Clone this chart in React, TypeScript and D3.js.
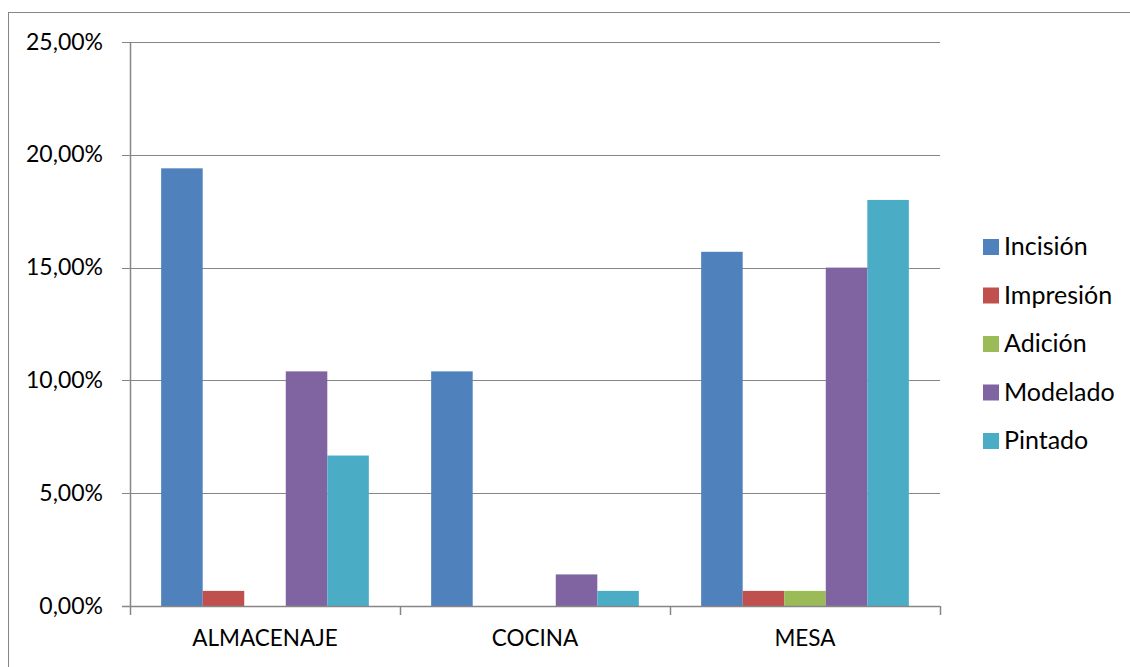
import React from "react";
import * as d3 from "d3";

const categories = ["ALMACENAJE", "COCINA", "MESA"];
const seriesNames = ["Incisión", "Impresión", "Adición", "Modelado", "Pintado"];
const seriesColors = ["#4F81BD", "#C0504D", "#9BBB59", "#8064A2", "#4BACC6"];
const values: number[][] = [
  [19.4, 0.67, 0, 10.4, 6.67],
  [10.4, 0, 0, 1.4, 0.67],
  [15.7, 0.67, 0.67, 15.0, 18.0],
];
const yTicks = [0, 5, 10, 15, 20, 25];

export default function App() {
  const W = 1130, H = 667;
  const left = 130, right = 940, top = 42, bottom = 606;
  const x = d3.scaleBand<string>().domain(categories).range([left, right]).paddingInner(0).paddingOuter(0);
  const xs = d3.scaleBand<string>().domain(seriesNames).range([0, x.bandwidth()]).paddingInner(0).paddingOuter(0.75);
  const y = d3.scaleLinear().domain([0, 25]).range([bottom, top]);
  const font = "Lato, 'Noto Sans', sans-serif";
  const fmt = (v: number) => v.toFixed(2).replace(".", ",") + "%";
  const bounds = [left, ...categories.map((c) => (x(c) as number) + x.bandwidth())];
  return (
    <svg width={W} height={H} style={{ position: "absolute", left: 0, top: 0 }}>
      <rect x={0} y={0} width={W} height={H} fill="#fff" />
      <rect x={8.5} y={12.5} width={W + 10} height={H + 10} fill="none" stroke="#868686" strokeWidth={1} />
      {yTicks.map((t) => (
        <g key={t}>
          <line x1={left - 8} x2={right} y1={Math.round(y(t)) + 0.5} y2={Math.round(y(t)) + 0.5} stroke="#868686" strokeWidth={1} />
          <text x={103} y={y(t) + 7.5} textAnchor="end" fontFamily={font} fontSize={23} fill="#000">{fmt(t)}</text>
        </g>
      ))}
      {categories.map((c, ci) =>
        seriesNames.map((s, si) => {
          const v = values[ci][si];
          if (v <= 0) return null;
          return (
            <rect key={c + s} x={(x(c) as number) + (xs(s) as number)} y={y(v)} width={xs.bandwidth()} height={bottom - y(v)} fill={seriesColors[si]} />
          );
        })
      )}
      <line x1={left + 0.5} x2={left + 0.5} y1={top} y2={bottom} stroke="#868686" strokeWidth={1.5} />
      <line x1={left - 8} x2={right} y1={bottom + 0.5} y2={bottom + 0.5} stroke="#868686" strokeWidth={1.5} />
      {bounds.map((b, i) => (
        <line key={i} x1={b + 0.5} x2={b + 0.5} y1={bottom} y2={bottom + 9} stroke="#868686" strokeWidth={1.5} />
      ))}
      {categories.map((c) => (
        <text key={c} x={(x(c) as number) + x.bandwidth() / 2} y={646} textAnchor="middle" fontFamily={font} fontSize={22.5} fill="#000">{c}</text>
      ))}
      {seriesNames.map((s, i) => (
        <g key={s} transform={`translate(983, ${239 + i * 48.5})`}>
          <rect x={0} y={0} width={16} height={16} fill={seriesColors[i]} />
          <text x={21} y={16} fontFamily={font} fontSize={25} fill="#000">{s}</text>
        </g>
      ))}
    </svg>
  );
}
